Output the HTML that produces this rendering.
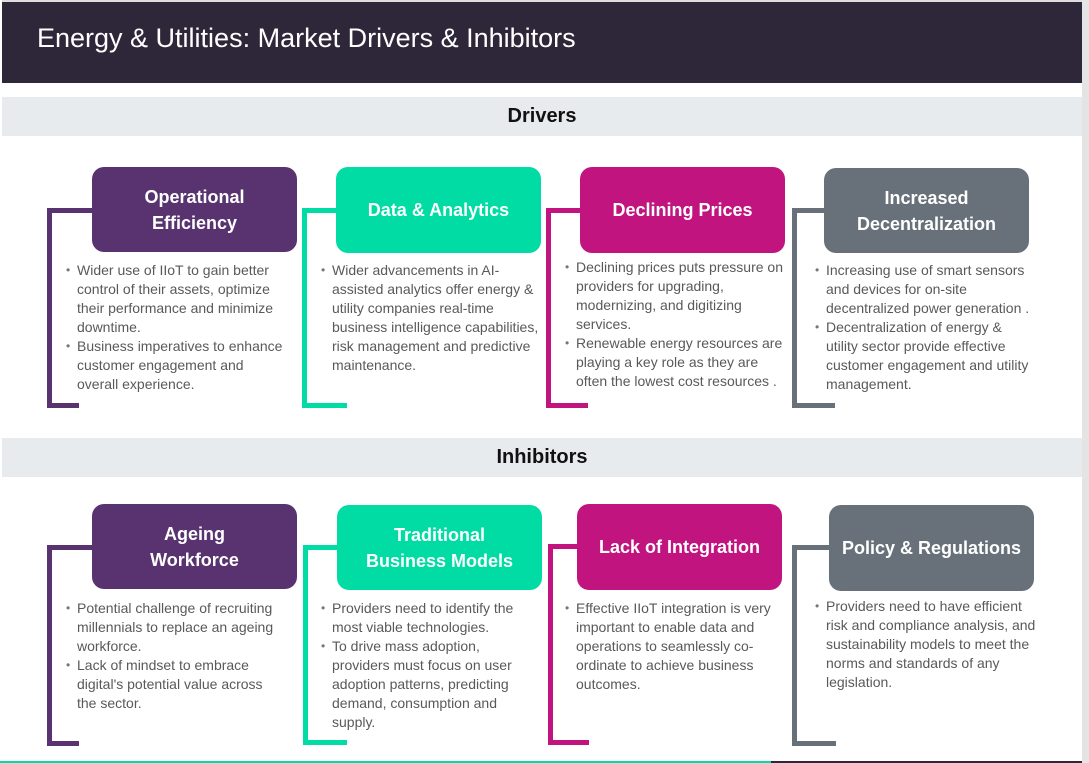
<!DOCTYPE html>
<html><head><meta charset="utf-8"><style>
*{margin:0;padding:0;box-sizing:border-box}
body{width:1089px;height:763px;position:relative;background:#fff;font-family:"Liberation Sans",sans-serif;overflow:hidden}
.abs{position:absolute}
.hdr{left:2px;top:0;width:1080px;height:83px;background:#2e2739;color:#fff;font-size:27px;padding:21px 0 0 35px;border-top:2px solid #ddd}
.band{left:2px;width:1080px;height:39px;background:#e8ebed;font-weight:bold;font-size:20px;text-align:center;line-height:39px;color:#111}
.box{border-radius:12px;color:#fff;font-weight:bold;font-size:18px;display:flex;align-items:center;justify-content:center;text-align:center;line-height:26px}
.ln{position:absolute}
.txt{position:absolute;font-size:14px;line-height:19px;color:#595959;white-space:nowrap}
.txt li{list-style:none;padding-left:19px;position:relative}
.txt li:before{content:"•";position:absolute;left:8px;color:#777;font-size:12px}
.p{background:#59336f}.t{background:#00dca4}.m{background:#c2147e}.g{background:#68717a}
</style></head><body>
<div class="abs" style="left:1082px;top:0;width:7px;height:763px;background:#e4e4e4"></div>
<div class="abs hdr">Energy &amp; Utilities: Market Drivers &amp; Inhibitors</div>
<div class="abs band" style="top:97px">Drivers</div>
<div class="abs band" style="top:438px">Inhibitors</div>

<div>
<div class="ln p" style="left:47px;top:208px;width:5px;height:200px"></div>
<div class="ln p" style="left:47px;top:208px;width:50px;height:5px"></div>
<div class="ln p" style="left:47px;top:403px;width:32px;height:5px"></div>
<div class="abs box p" style="left:92px;top:167px;width:205px;height:85px">Operational<br>Efficiency</div>
<ul class="txt" style="left:58px;top:261px"><li>Wider use of IIoT to gain better<br>control of their assets, optimize<br>their performance and minimize<br>downtime.</li><li>Business imperatives to enhance<br>customer engagement and<br>overall experience.</li></ul>
</div>
<div>
<div class="ln t" style="left:302px;top:208px;width:5px;height:200px"></div>
<div class="ln t" style="left:302px;top:208px;width:40px;height:5px"></div>
<div class="ln t" style="left:302px;top:403px;width:45px;height:5px"></div>
<div class="abs box t" style="left:336px;top:167px;width:205px;height:86px">Data &amp; Analytics</div>
<ul class="txt" style="left:313px;top:261px"><li>Wider advancements in AI-<br>assisted analytics offer energy &amp;<br>utility companies real-time<br>business intelligence capabilities,<br>risk management and predictive<br>maintenance.</li></ul>
</div>
<div>
<div class="ln m" style="left:546px;top:208px;width:5px;height:200px"></div>
<div class="ln m" style="left:546px;top:208px;width:40px;height:5px"></div>
<div class="ln m" style="left:546px;top:403px;width:42px;height:5px"></div>
<div class="abs box m" style="left:580px;top:167px;width:205px;height:86px">Declining Prices</div>
<ul class="txt" style="left:557px;top:258px"><li>Declining prices puts pressure on<br>providers for upgrading,<br>modernizing, and digitizing<br>services.</li><li>Renewable energy resources are<br>playing a key role as they are<br>often the lowest cost resources .</li></ul>
</div>
<div>
<div class="ln g" style="left:792px;top:208px;width:5px;height:200px"></div>
<div class="ln g" style="left:792px;top:208px;width:40px;height:5px"></div>
<div class="ln g" style="left:792px;top:403px;width:43px;height:5px"></div>
<div class="abs box g" style="left:824px;top:168px;width:205px;height:85px">Increased<br>Decentralization</div>
<ul class="txt" style="left:807px;top:261px"><li>Increasing use of smart sensors<br>and devices for on-site<br>decentralized power generation .</li><li>Decentralization of energy &amp;<br>utility sector provide effective<br>customer engagement and utility<br>management.</li></ul>
</div>

<div>
<div class="ln p" style="left:47px;top:545px;width:5px;height:201px"></div>
<div class="ln p" style="left:47px;top:545px;width:50px;height:5px"></div>
<div class="ln p" style="left:47px;top:741px;width:32px;height:5px"></div>
<div class="abs box p" style="left:92px;top:504px;width:205px;height:85px">Ageing<br>Workforce</div>
<ul class="txt" style="left:58px;top:599px"><li>Potential challenge of recruiting<br>millennials to replace an ageing<br>workforce.</li><li>Lack of mindset to embrace<br>digital's potential value across<br>the sector.</li></ul>
</div>
<div>
<div class="ln t" style="left:303px;top:545px;width:5px;height:200px"></div>
<div class="ln t" style="left:303px;top:545px;width:40px;height:5px"></div>
<div class="ln t" style="left:303px;top:740px;width:44px;height:5px"></div>
<div class="abs box t" style="left:337px;top:505px;width:205px;height:85px">Traditional<br>Business Models</div>
<ul class="txt" style="left:313px;top:599px"><li>Providers need to identify the<br>most viable technologies.</li><li>To drive mass adoption,<br>providers must focus on user<br>adoption patterns, predicting<br>demand, consumption and<br>supply.</li></ul>
</div>
<div>
<div class="ln m" style="left:548px;top:544px;width:5px;height:201px"></div>
<div class="ln m" style="left:548px;top:544px;width:35px;height:5px"></div>
<div class="ln m" style="left:548px;top:740px;width:41px;height:5px"></div>
<div class="abs box m" style="left:577px;top:504px;width:205px;height:86px">Lack of Integration</div>
<ul class="txt" style="left:557px;top:599px"><li>Effective IIoT integration is very<br>important to enable data and<br>operations to seamlessly co-<br>ordinate to achieve business<br>outcomes.</li></ul>
</div>
<div>
<div class="ln g" style="left:792px;top:545px;width:5px;height:201px"></div>
<div class="ln g" style="left:792px;top:545px;width:42px;height:5px"></div>
<div class="ln g" style="left:792px;top:741px;width:44px;height:5px"></div>
<div class="abs box g" style="left:829px;top:505px;width:205px;height:86px">Policy &amp; Regulations</div>
<ul class="txt" style="left:807px;top:597px"><li>Providers need to have efficient<br>risk and compliance analysis, and<br>sustainability models to meet the<br>norms and standards of any<br>legislation.</li></ul>
</div>
<div class="abs" style="left:0;top:761px;width:771px;height:2px;background:#00dca4"></div>
<div class="abs" style="left:771px;top:761px;width:311px;height:2px;background:#2e2739"></div>
</body></html>
